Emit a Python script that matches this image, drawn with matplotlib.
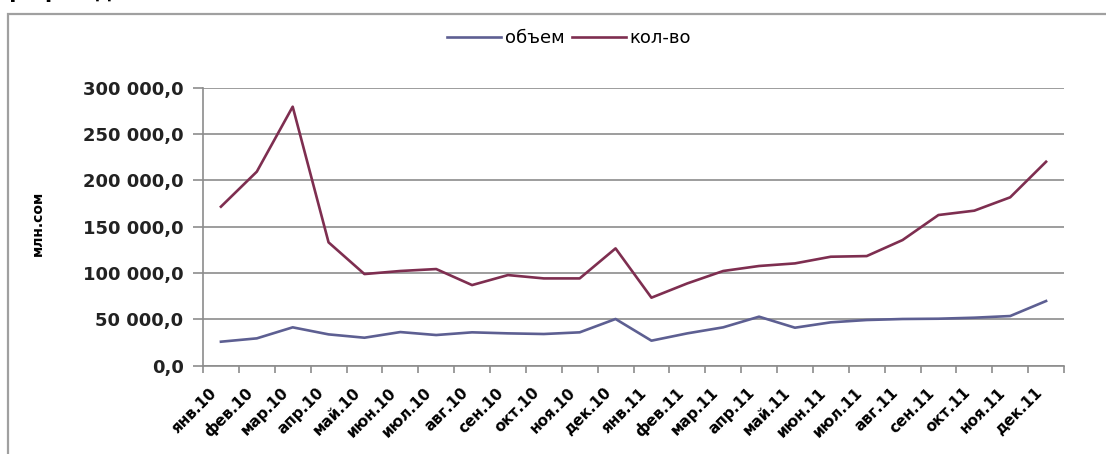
import matplotlib
matplotlib.use("Agg")
import matplotlib.pyplot as plt
import matplotlib.transforms as mtransforms
from matplotlib.patches import Rectangle
from matplotlib.ticker import FuncFormatter, FixedLocator, NullFormatter

months = ["янв.10", "фев.10", "мар.10", "апр.10", "май.10", "июн.10", "июл.10",
          "авг.10", "сен.10", "окт.10", "ноя.10", "дек.10",
          "янв.11", "фев.11", "мар.11", "апр.11", "май.11", "июн.11", "июл.11",
          "авг.11", "сен.11", "окт.11", "ноя.11", "дек.11"]

obem = [25900, 29500, 41400, 33800, 30200, 36300, 33100, 36000, 34900, 34200, 36000, 50400,
        27000, 34900, 41400, 52900, 41000, 46800, 49300, 50400, 50700, 51800, 53600, 69800]

kolvo = [171600, 209400, 279500, 133100, 98900, 102200, 104300, 87000, 97800, 94200, 94200, 126600,
         73400, 88800, 102200, 107600, 110400, 117600, 118300, 135600, 162600, 167300, 181700, 220100]

yticks = [0, 50000, 100000, 150000, 200000, 250000, 300000]

W, H = 1106, 454
fig = plt.figure(figsize=(W / 100, H / 100), dpi=100)
fig.patch.set_facecolor("white")

# outer chart frame
fig.patches.append(Rectangle((8 / W, -0.1), 1.2, 1.1 - 14 / H, transform=fig.transFigure,
                             fill=False, edgecolor="#a0a0a0", linewidth=1.6))

# title cut off at the very top edge (only descenders visible, as in the reference)
fig.text(-4 / W, 1 + 2 / H, "График динамики", fontsize=15, fontweight="bold",
         ha="left", va="baseline", color="black")

ax = fig.add_axes([203 / W, 1 - 365.7 / H, (1064 - 203) / W, (365.7 - 87.7) / H])
x = list(range(len(months)))
l1, = ax.plot(x, obem, color="#5d5f92", lw=1.9, label="объем")
l2, = ax.plot(x, kolvo, color="#7e2e50", lw=1.9, label="кол-во")

ax.set_xlim(-0.5, len(months) - 0.5)
ax.set_ylim(0, 300000)
ax.set_yticks(yticks)
ax.yaxis.set_major_formatter(FuncFormatter(lambda v, p: f"{int(v):,}".replace(",", " ") + ",0"))
ax.yaxis.grid(True, color="#8c8c8c", lw=1.2)
ax.set_axisbelow(True)

# x ticks at category boundaries, labels at centers
ax.xaxis.set_major_locator(FixedLocator([i - 0.5 for i in range(len(months) + 1)]))
ax.xaxis.set_major_formatter(NullFormatter())
ax.xaxis.set_minor_locator(FixedLocator(x))
ax.set_xticklabels(months, minor=True, rotation=45, ha="right", rotation_mode="anchor",
                   fontsize=11, fontweight="bold")
ax.tick_params(axis="x", which="minor", length=0, pad=14)
ax.tick_params(axis="x", which="major", length=5, color="#8c8c8c", width=1.2)
ax.tick_params(axis="y", length=7, color="#8c8c8c", width=1.2, pad=7)
offset = mtransforms.ScaledTranslation(-12 / 100, 0, fig.dpi_scale_trans)
for lab in ax.get_xticklabels(minor=True):
    lab.set_transform(lab.get_transform() + offset)
for lab in ax.get_yticklabels():
    lab.set_fontsize(13)
    lab.set_fontweight("bold")
    lab.set_color("#222222")

for s in ["top", "right"]:
    ax.spines[s].set_visible(False)
for s in ["left", "bottom"]:
    ax.spines[s].set_color("#8c8c8c")
    ax.spines[s].set_linewidth(1.2)

fig.text(38 / W, 1 - 223 / H, "млн.сом", rotation=90, fontsize=10, fontweight="bold",
         ha="center", va="center")

fig.legend(handles=[l1, l2], loc="center", bbox_to_anchor=(569 / W, 1 - 38 / H), ncol=2,
           frameon=False, fontsize=13, handlelength=3.0, handletextpad=0.2, columnspacing=0.4)

fig.savefig("out.png", dpi=100)
